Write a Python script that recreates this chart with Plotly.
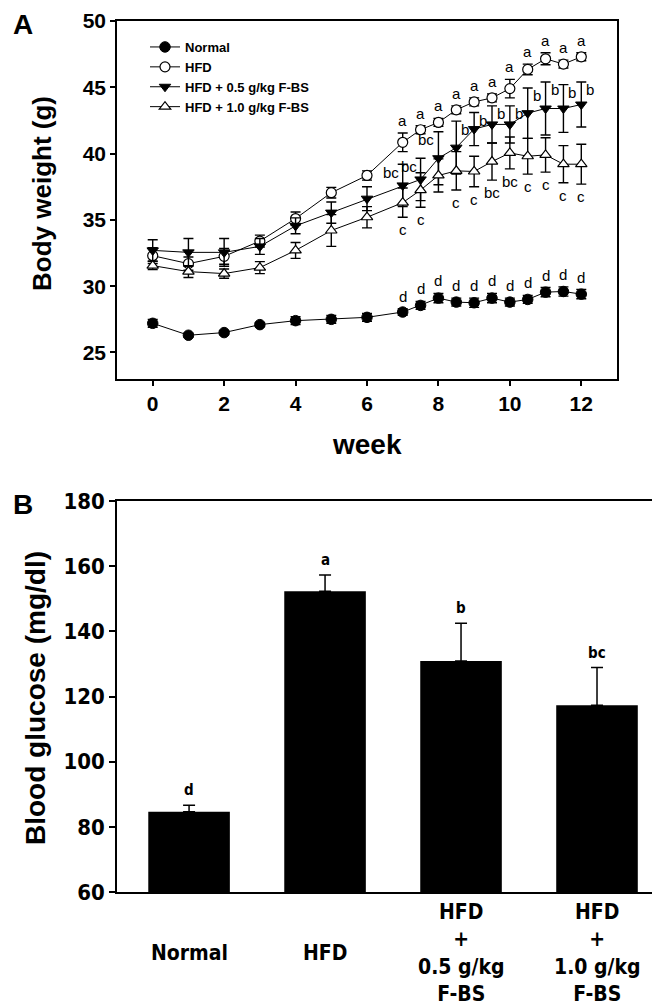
import plotly.graph_objects as go

# ---------------- Panel A data ----------------
weeks = [0, 1, 2, 3, 4, 5, 6, 7, 7.5, 8, 8.5, 9, 9.5, 10, 10.5, 11, 11.5, 12]
group_names = ["Normal", "HFD", "HFD + 0.5 g/kg F-BS", "HFD + 1.0 g/kg F-BS"]

normal = [27.2, 26.3, 26.5, 27.1, 27.4, 27.5, 27.65, 28.05, 28.55, 29.1, 28.8, 28.75, 29.1, 28.8, 29.0, 29.55, 29.6, 29.4]
normal_err = [0.3, 0.15, 0.15, 0.15, 0.3, 0.3, 0.3, 0.25, 0.3, 0.35, 0.3, 0.35, 0.35, 0.3, 0.3, 0.35, 0.35, 0.35]
normal_letters = ["", "", "", "", "", "", "", "d", "d", "d", "d", "d", "d", "d", "d", "d", "d", "d"]

hfd = [32.3, 31.7, 32.25, 33.4, 35.1, 37.05, 38.35, 40.85, 41.8, 42.35, 43.3, 43.9, 44.2, 44.9, 46.35, 47.15, 46.75, 47.3]
hfd_err = [0.6, 0.5, 0.6, 0.45, 0.5, 0.4, 0.35, 0.7, 0.3, 0.3, 0.3, 0.3, 0.3, 0.7, 0.4, 0.45, 0.3, 0.3]
hfd_letters = ["", "", "", "", "", "", "", "a", "a", "a", "a", "a", "a", "a", "a", "a", "a", "a"]

fbs05 = [32.7, 32.55, 32.55, 33.0, 34.55, 35.55, 36.6, 37.6, 38.05, 39.65, 40.45, 41.85, 42.2, 42.2, 43.05, 43.4, 43.4, 43.7]
fbs05_err = [0.8, 1.05, 1.05, 0.6, 0.6, 0.8, 0.9, 1.6, 1.6, 2.0, 2.0, 1.25, 1.4, 1.4, 1.9, 2.0, 1.8, 1.7]
fbs05_letters = ["", "", "", "", "", "", "", "bc", "bc", "bc", "b", "b", "b", "b", "b", "b", "b", "b"]

fbs10 = [31.55, 31.1, 30.95, 31.4, 32.7, 34.2, 35.2, 36.3, 37.25, 38.35, 38.7, 38.65, 39.4, 40.05, 39.8, 39.9, 39.2, 39.2]
fbs10_err = [0.3, 0.45, 0.35, 0.45, 0.6, 1.2, 0.8, 1.1, 1.3, 1.25, 1.45, 1.15, 1.4, 1.2, 1.35, 1.3, 1.4, 1.5]
fbs10_letters = ["", "", "", "", "", "", "", "c", "c", "", "c", "c", "bc", "bc", "c", "c", "c", "c"]

bw_ticks = [25, 30, 35, 40, 45, 50]
week_ticks = [0, 2, 4, 6, 8, 10, 12]

# ---------------- Panel B data ----------------
glucose_groups = ["Normal", "HFD", "HFD + 0.5 g/kg F-BS", "HFD + 1.0 g/kg F-BS"]
glucose_labels = ["Normal", "HFD", "HFD<br>+<br>0.5 g/kg<br>F-BS", "HFD<br>+<br>1.0 g/kg<br>F-BS"]
glucose = [84.6, 152.3, 130.9, 117.3]
glucose_err = [2.0, 5.0, 11.6, 11.6]
glucose_letters = ["d", "a", "b", "bc"]
glucose_ticks = [60, 80, 100, 120, 140, 160, 180]

W, H = 660, 1005
ARIAL = "Liberation Sans, Arial, Helvetica, sans-serif"
NARROW = "Liberation Sans Narrow, Arial Narrow, DejaVu Sans Condensed, Liberation Sans, sans-serif"

def px_x(p):
    return p / W

def px_y(p):
    return 1 - p / H

fig = go.Figure()

styles = [
    dict(symbol="circle", color="black", line=dict(color="black", width=1), size=10.5),
    dict(symbol="circle", color="white", line=dict(color="black", width=1.2), size=10),
    dict(symbol="triangle-down", color="black", line=dict(color="black", width=1), size=10),
    dict(symbol="triangle-up", color="white", line=dict(color="black", width=1.2), size=10),
]
series = [normal, hfd, fbs05, fbs10]
errs = [normal_err, hfd_err, fbs05_err, fbs10_err]
for name, ys, es, st in zip(group_names, series, errs, styles):
    fig.add_trace(go.Scatter(
        x=weeks, y=ys, name="<b>" + name + "</b>", mode="lines+markers",
        line=dict(color="black", width=1),
        marker=st,
        error_y=dict(type="data", array=es, color="black", thickness=1.4, width=5),
        xaxis="x", yaxis="y",
    ))

fig.add_trace(go.Bar(
    x=glucose_groups, y=glucose, width=0.6, showlegend=False,
    marker=dict(color="black", line=dict(color="black", width=0)),
    error_y=dict(type="data", array=glucose_err, arrayminus=[0] * len(glucose_err),
                 symmetric=False, color="black", thickness=1.5, width=6),
    xaxis="x2", yaxis="y2",
))

ann = []
lf = dict(family=ARIAL, size=15, color="black")

def add_letters(ys, es, letters, mode):
    for x, y, e, t in zip(weeks, ys, es, letters):
        if not t:
            continue
        if mode == "above":
            ann.append(dict(x=x, y=y + e, xref="x", yref="y", text=t, showarrow=False,
                            xanchor="center", yanchor="bottom", yshift=2, font=lf))
        elif mode == "below":
            ann.append(dict(x=x, y=y - e, xref="x", yref="y", text=t, showarrow=False,
                            xanchor="center", yanchor="top", yshift=-2, font=lf))
        else:  # beside the upper cap
            left = len(t) > 1
            ann.append(dict(x=x, y=y + e, xref="x", yref="y", text=t, showarrow=False,
                            xanchor="right" if left else "left", yanchor="middle",
                            xshift=-2 if left else 3, yshift=-8, font=lf))

add_letters(normal, normal_err, normal_letters, "above")
add_letters(hfd, hfd_err, hfd_letters, "above")
add_letters(fbs05, fbs05_err, fbs05_letters, "side")
add_letters(fbs10, fbs10_err, fbs10_letters, "below")

for g, v, e, t in zip(glucose_groups, glucose, glucose_err, glucose_letters):
    ann.append(dict(x=g, y=v + e, xref="x2", yref="y2", text="<b>" + t + "</b>", showarrow=False,
                    xanchor="center", yanchor="bottom", yshift=4,
                    font=dict(family=NARROW, size=15, color="black")))

for g, lab in zip(glucose_groups, glucose_labels):
    ann.append(dict(x=g, y=px_y(945), xref="x2", yref="paper", text="<b>" + lab + "</b>",
                    showarrow=False, xanchor="center", yanchor="middle", align="center",
                    font=dict(family=NARROW, size=21, color="black")))

# titles and panel letters
ann += [
    dict(x=px_x(34), y=px_y(186), xref="paper", yref="paper", text="<b>Body weight (g)</b>",
         textangle=-90, showarrow=False, xanchor="center", yanchor="middle",
         font=dict(family=ARIAL, size=26, color="black")),
    dict(x=px_x(359), y=px_y(436), xref="paper", yref="paper", text="<b>week</b>",
         showarrow=False, xanchor="center", yanchor="middle",
         font=dict(family=ARIAL, size=28, color="black")),
    dict(x=px_x(27), y=px_y(690), xref="paper", yref="paper", text="<b>Blood glucose (mg/dl)</b>",
         textangle=-90, showarrow=False, xanchor="center", yanchor="middle",
         font=dict(family=ARIAL, size=28, color="black")),
    dict(x=px_x(15), y=px_y(17), xref="paper", yref="paper", text="<b>A</b>",
         showarrow=False, xanchor="center", yanchor="middle",
         font=dict(family=ARIAL, size=28, color="black")),
    dict(x=px_x(15), y=px_y(496), xref="paper", yref="paper", text="<b>B</b>",
         showarrow=False, xanchor="center", yanchor="middle",
         font=dict(family=ARIAL, size=28, color="black")),
]

axis_common = dict(showline=True, linecolor="black", linewidth=1.5, mirror=True,
                   showgrid=False, zeroline=False, automargin=False)

fig.update_layout(
    width=W, height=H, margin=dict(l=0, r=0, t=0, b=0),
    paper_bgcolor="white", plot_bgcolor="white",
    template="none",
    xaxis=dict(domain=[px_x(109), px_x(609)], range=[-1, 13], tickvals=week_ticks,
               ticks="outside", ticklen=5, tickwidth=1.5, tickcolor="black",
               tickfont=dict(family=ARIAL, size=21, color="black", weight="bold"),
               anchor="y", **axis_common),
    yaxis=dict(domain=[px_y(371), px_y(13)], range=[23, 50], tickvals=bw_ticks,
               ticks="outside", ticklen=5, tickwidth=1.5, tickcolor="black",
               tickfont=dict(family=ARIAL, size=21, color="black", weight="bold"),
               anchor="x", **axis_common),
    xaxis2=dict(domain=[px_x(109), px_x(657)], range=[-0.53, 3.5], type="category",
                showticklabels=False, ticks="", anchor="y2", **axis_common),
    yaxis2=dict(domain=[px_y(884), px_y(493)], range=[60, 180], tickvals=glucose_ticks,
                ticks="outside", ticklen=6, tickwidth=1.5, tickcolor="black",
                tickfont=dict(family=NARROW, size=22, color="black", weight="bold"),
                anchor="x2", **axis_common),
    legend=dict(x=px_x(137), y=px_y(24), xanchor="left", yanchor="top",
                bgcolor="rgba(0,0,0,0)", borderwidth=0,
                font=dict(family=ARIAL, size=13, color="black"), itemwidth=30),
    showlegend=True,
    annotations=ann,
)

fig.write_html("out.html")
